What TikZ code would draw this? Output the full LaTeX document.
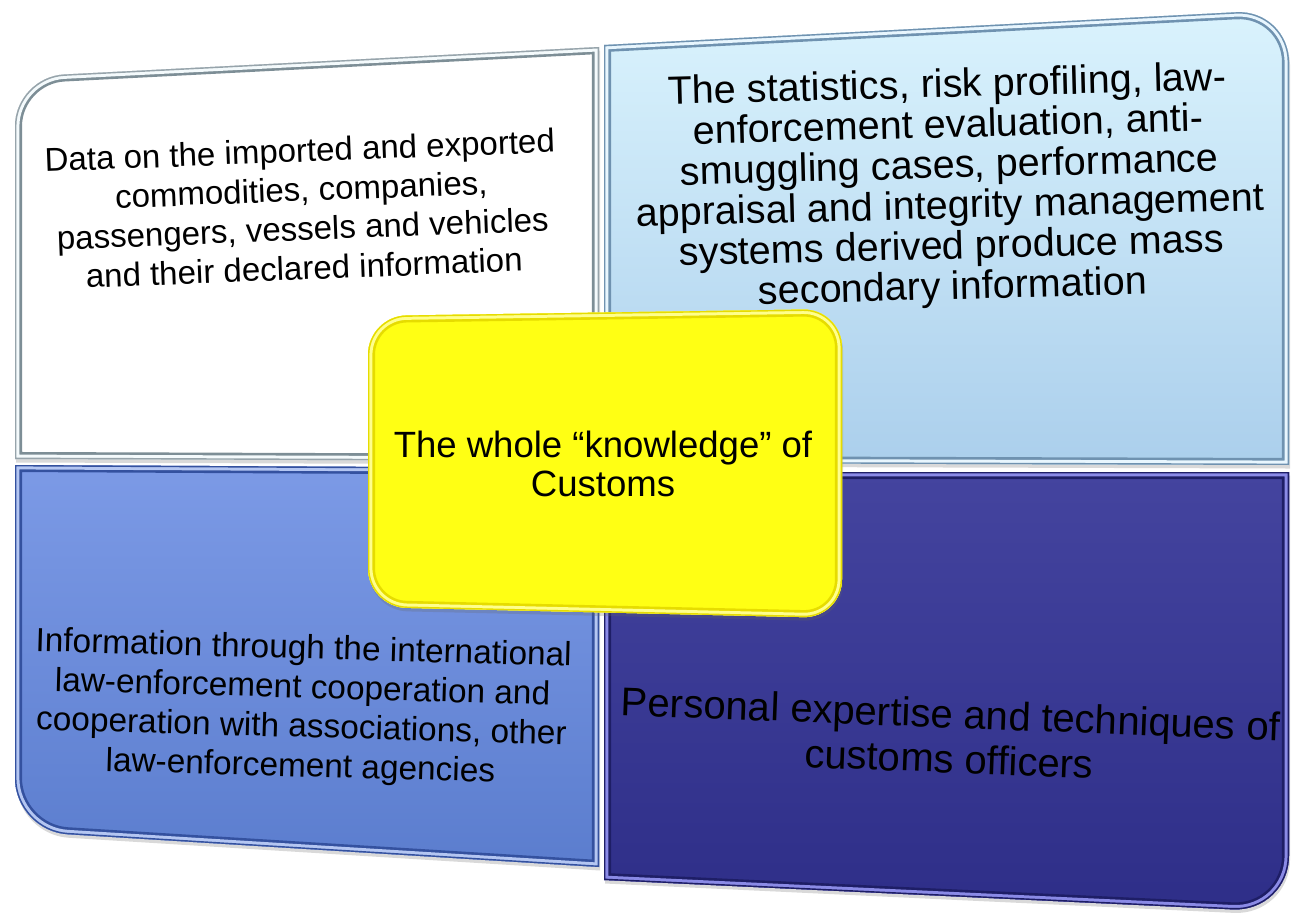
\documentclass[tikz,border=0pt]{standalone}
\usepackage{fontspec}
\setmainfont{Liberation Sans}
\usetikzlibrary{shadows}

\definecolor{tlLight}{HTML}{F4FAFC}
\definecolor{tlDark}{HTML}{7D8E96}
\definecolor{trTop}{HTML}{DAF3FD}
\definecolor{trBottom}{HTML}{ABCFEC}
\definecolor{trLight}{HTML}{E8F6FE}
\definecolor{trDark}{HTML}{6F92B0}
\definecolor{blTop}{HTML}{7C9AE6}
\definecolor{blBottom}{HTML}{5B7DCE}
\definecolor{blLight}{HTML}{B4C6F2}
\definecolor{blDark}{HTML}{34519F}
\definecolor{brTop}{HTML}{44449F}
\definecolor{brBottom}{HTML}{2E2E88}
\definecolor{brLight}{HTML}{8A8AE6}
\definecolor{brDark}{HTML}{1E1E66}
\definecolor{coreFill}{HTML}{FFFF14}
\definecolor{coreLight}{HTML}{FFFF8C}
\definecolor{coreDark}{HTML}{E6DC00}

% panel outlines (pixel units, y downwards)
\newcommand{\pathTL}{(300,62.4) [rounded corners=28pt] -- (15,77) -- (15,300) [sharp corners] -- (15,459) -- (599,461) -- (599,47) -- cycle}
\newcommand{\pathTR}{(950,27.1) [rounded corners=30pt] -- (1289,9.5) -- (1289,250) [sharp corners] -- (1289,465) -- (604,463) -- (604,45) -- cycle}
\newcommand{\pathBL}{(15,650) [rounded corners=30pt] -- (15,831) -- (300,848.6) [sharp corners] -- (599,867) -- (599,468) -- (15,465) -- cycle}
\newcommand{\pathBR}{(950,896.2) [rounded corners=32pt] -- (1289,912) -- (1289,700) [sharp corners] -- (1289,472) -- (604,472) -- (604,880) -- cycle}
\newcommand{\pathCore}{(605,312.5) [rounded corners=22pt] -- (842,309) -- (842,618) -- (368,607) -- (368,316) -- cycle}

\tikzset{
  rimOuter/.style={line width=8pt, line join=round},
  rimMid/.style={line width=5pt, line join=round},
  rimInner/.style={line width=1.6pt, line join=round},
  softShadow/.style={drop shadow={shadow xshift=0.6pt, shadow yshift=-2pt, opacity=0.25, fill=black!60}},
  paneltext/.style={align=center, text=black, inner sep=0pt},
}

\begin{document}
\begin{tikzpicture}[x=0.02cm, y=-0.02cm]
\useasboundingbox (0,0) rectangle (1295,915);

% Top left panel
\fill[white, softShadow] \pathTL;
\begin{scope}
  \clip \pathTL;
  \draw[rimOuter, tlDark] \pathTL;
  \draw[rimMid, tlLight] \pathTL;
  \draw[rimInner, tlDark!80] \pathTL;
\end{scope}

% Top right panel
\shade[top color=trTop, bottom color=trBottom, softShadow] \pathTR;
\begin{scope}
  \clip \pathTR;
  \draw[rimOuter, trDark] \pathTR;
  \draw[rimMid, trLight] \pathTR;
  \draw[rimInner, trDark] \pathTR;
\end{scope}

% Bottom left panel
\shade[top color=blTop, bottom color=blBottom, softShadow] \pathBL;
\begin{scope}
  \clip \pathBL;
  \draw[rimOuter, blDark] \pathBL;
  \draw[rimMid, blLight] \pathBL;
  \draw[rimInner, blDark] \pathBL;
\end{scope}

% Bottom right panel
\shade[top color=brTop, bottom color=brBottom, softShadow] \pathBR;
\begin{scope}
  \clip \pathBR;
  \draw[rimOuter, brDark] \pathBR;
  \draw[rimMid, brLight] \pathBR;
  \draw[rimInner, brDark] \pathBR;
\end{scope}

% Centre box
\fill[coreFill, softShadow] \pathCore;
\begin{scope}
  \clip \pathCore;
  \draw[rimOuter, coreDark] \pathCore;
  \draw[rimMid, coreLight] \pathCore;
  \draw[rimInner, coreDark] \pathCore;
\end{scope}

% Texts
\node[paneltext, font=\fontsize{18.8}{22.3}\selectfont, rotate=2.2] (dataText) at (302,209)
  {Data on the imported and exported\\commodities, companies,\\passengers, vessels and vehicles\\and their declared information};
\node[paneltext, font=\fontsize{22.5}{23}\selectfont, rotate=1.5] (statsText) at (950,188)
  {The statistics, risk profiling, law-\\enforcement evaluation, anti-\\smuggling cases, performance\\appraisal and integrity management\\systems derived produce mass\\secondary information};
\node[paneltext, font=\fontsize{19}{22.4}\selectfont, rotate=-1.6] (coopText) at (302,709)
  {Information through the international\\law-enforcement cooperation and\\cooperation with associations, other\\law-enforcement agencies};
\node[paneltext, font=\fontsize{22.8}{25.6}\selectfont, rotate=-2.2] (expertText) at (950,736)
  {Personal expertise and techniques of\\customs officers};
\node[paneltext, font=\fontsize{20.8}{22.2}\selectfont] (coreText) at (603,464)
  {The whole “knowledge” of\\Customs};
\end{tikzpicture}
\end{document}
